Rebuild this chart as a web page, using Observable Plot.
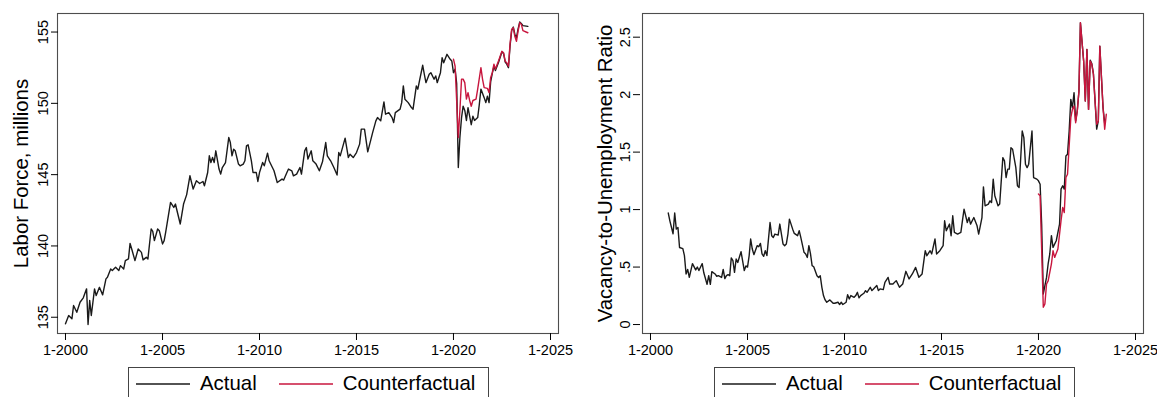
<!DOCTYPE html>
<html>
<head>
<meta charset="utf-8">
<script src="https://cdn.jsdelivr.net/npm/d3@7"></script>
<script src="https://cdn.jsdelivr.net/npm/@observablehq/plot@0.6"></script>
<style>
  body { margin: 0; background: #fff; font-family: "Liberation Sans", Arial, sans-serif; }
  #wrap { position: relative; width: 1157px; height: 397px; overflow: hidden; background: #fff; }
  .panel { position: absolute; top: 0; }
  .legend { position: absolute; top: 367px; height: 36px; border: 1px solid #444; box-sizing: border-box;
            display: flex; align-items: center; font-size: 20.4px; color: #000; padding-left: 7px; padding-bottom: 3px; }
  .swatch { display: block; width: 54px; height: 4px; }
  .legend span { margin-left: 10px; }
</style>
</head>
<body>
<div id="wrap">
  <div class="panel" id="p1" style="left:0px"></div>
  <div class="panel" id="p2" style="left:579px"></div>
  <div class="legend" id="lg1" style="left:128px;width:361px"></div>
  <div class="legend" id="lg2" style="left:714px;width:361px"></div>
</div>
<script>
// ---------- DATA ----------
const yearTicks = [2000, 2005, 2010, 2015, 2020, 2025];
const seriesNames = ["Actual", "Counterfactual"];
const seriesColors = ["#1a1a1a", "#c8163e"];

const lfTicks = [135, 140, 145, 150, 155];
const vuTicks = [0, 0.5, 1, 1.5, 2, 2.5];

const lfTitle = "Labor Force, millions";
const vuTitle = "Vacancy-to-Unemployment Ratio";

// Labor force, actual (millions)
const lfActual = [
["2000-01",134.54],["2000-03",135.12],["2000-05",134.89],["2000-06",135.82],["2000-08",135.35],["2000-10",136.05],["2000-12",136.36],
["2001-02",136.99],["2001-03",134.49],["2001-04",136.17],["2001-05",135.12],["2001-07",136.99],["2001-08",136.52],["2001-10",137.1],["2001-12",136.57],
["2002-02",137.69],["2002-03",137.8],["2002-05",138.39],["2002-06",138.27],["2002-08",138.5],["2002-10",138.27],["2002-11",138.62],
["2003-01",138.39],["2003-02",138.97],["2003-04",139.09],["2003-05",140.18],["2003-06",139.79],["2003-08",138.97],["2003-10",139.79],["2003-12",139.55],
["2004-01",139.02],["2004-03",139.2],["2004-04",139.09],["2004-06",141.19],["2004-07",141.02],["2004-08",140.37],["2004-10",141.19],["2004-11",141.07],
["2005-01",140.14],["2005-02",140.37],["2005-03",140.95],["2005-06",143.05],["2005-08",142.7],["2005-09",142.94],["2005-10",142.47],["2005-12",141.54],
["2006-02",142.94],["2006-04",143.6],["2006-06",144.92],["2006-08",143.99],["2006-10",144.57],["2006-12",144.38],
["2007-02",144.52],["2007-03",144.22],["2007-05",145.15],["2007-06",146.32],["2007-07",145.85],["2007-08",146.2],["2007-09",145.85],["2007-10",146.67],["2007-12",145.39],
["2008-01",145.04],["2008-02",145.5],["2008-04",145.85],["2008-06",147.6],["2008-07",147.25],["2008-08",146.32],["2008-09",146.78],["2008-10",146.67],["2008-12",145.74],
["2009-01",145.62],["2009-03",145.74],["2009-04",145.97],["2009-05",147.02],["2009-06",147.09],["2009-08",145.97],["2009-09",145.15],["2009-11",145.15],["2009-12",144.52],
["2010-01",145.15],["2010-03",145.85],["2010-04",145.62],["2010-06",146.51],["2010-07",145.97],["2010-09",145.5],["2010-10",145.27],["2010-12",144.45],
["2011-03",144.69],["2011-04",144.62],["2011-06",145.15],["2011-07",145.39],["2011-09",145.27],["2011-10",144.92],["2011-12",145.04],
["2012-02",145.5],["2012-03",145.04],["2012-05",146.67],["2012-06",146.9],["2012-07",146.09],["2012-09",146.67],["2012-10",145.97],["2012-12",145.74],
["2013-02",145.27],["2013-04",145.9],["2013-06",147.25],["2013-07",146.32],["2013-09",145.97],["2013-11",145.5],
["2014-01",144.97],["2014-02",146.55],["2014-03",146.32],["2014-05",147.14],["2014-06",147.56],["2014-08",146.2],["2014-09",146.43],["2014-11",146.2],
["2015-01",146.55],["2015-03",147.14],["2015-04",148.19],["2015-06",148.19],["2015-08",146.6],["2015-10",147.49],["2015-11",147.95],
["2016-01",148.77],["2016-02",149.0],["2016-04",148.77],["2016-06",150.1],["2016-07",149.24],["2016-09",149.35],["2016-11",149.0],["2016-12",148.65],
["2017-01",149.35],["2017-04",149.59],["2017-05",150.05],["2017-06",151.22],["2017-07",150.29],["2017-09",150.05],["2017-11",149.7],["2017-12",149.59],
["2018-02",151.22],["2018-03",150.99],["2018-04",151.57],["2018-06",152.67],["2018-07",152.04],["2018-08",151.45],["2018-10",152.04],["2018-11",152.15],
["2019-01",151.69],["2019-02",151.92],["2019-03",151.45],["2019-05",152.15],["2019-06",153.2],["2019-07",152.85],["2019-09",153.44],["2019-11",153.09],["2019-12",152.97],
["2020-01",152.15],["2020-02",152.4],["2020-03",151.4],["2020-04",145.5],["2020-05",147.6],["2020-06",149.0],["2020-07",149.8],["2020-08",149.5],["2020-09",148.8],["2020-10",149.7],["2020-12",148.5],
["2021-01",149.1],["2021-02",148.8],["2021-04",149.0],["2021-05",149.9],["2021-06",151.0],["2021-08",150.4],["2021-09",150.05],["2021-10",150.5],["2021-11",150.05],["2021-12",151.5],
["2022-01",152.1],["2022-02",152.6],["2022-03",152.3],["2022-05",152.9],["2022-07",153.6],["2022-08",153.5],["2022-09",152.9],["2022-10",152.75],["2022-11",152.5],["2022-12",154.0],
["2023-01",155.1],["2023-02",155.35],["2023-03",154.85],["2023-04",154.6],["2023-05",155.2],["2023-06",155.7],["2023-07",155.6],["2023-08",155.45],["2023-11",155.4]
];

// Labor force, counterfactual (millions)
const lfCounterfactual = [
["2020-01",153.1],["2020-02",152.6],["2020-04",147.6],["2020-05",149.5],["2020-06",151.7],["2020-07",151.7],["2020-08",151.45],["2020-09",150.3],["2020-10",150.75],["2020-11",150.2],["2020-12",149.8],
["2021-01",150.2],["2021-03",150.3],["2021-04",151.0],["2021-06",152.5],["2021-07",151.7],["2021-08",151.1],["2021-10",151.05],["2021-11",150.75],["2021-12",151.8],
["2022-01",152.15],["2022-02",152.75],["2022-03",152.4],["2022-05",153.0],["2022-07",153.65],["2022-08",153.55],["2022-09",152.95],["2022-10",152.85],["2022-11",152.6],["2022-12",154.15],
["2023-01",155.2],["2023-02",155.3],["2023-03",154.7],["2023-04",154.35],["2023-05",155.05],["2023-06",155.65],["2023-07",155.55],["2023-08",155.1],["2023-11",154.95]
];

// Vacancy-to-unemployment ratio, actual
const vuActual = [
["2000-12",0.97],["2001-01",0.90],["2001-03",0.79],["2001-04",0.97],["2001-05",0.83],["2001-06",0.845],["2001-07",0.67],["2001-09",0.66],["2001-10",0.60],["2001-11",0.44],["2001-12",0.48],
["2002-01",0.41],["2002-03",0.53],["2002-05",0.475],["2002-06",0.50],["2002-07",0.47],["2002-08",0.50],["2002-09",0.53],["2002-10",0.45],["2002-12",0.35],
["2003-01",0.425],["2003-02",0.35],["2003-03",0.46],["2003-05",0.44],["2003-06",0.42],["2003-07",0.425],["2003-09",0.41],["2003-10",0.48],["2003-11",0.40],["2003-12",0.425],
["2004-01",0.434],["2004-02",0.425],["2004-03",0.58],["2004-04",0.556],["2004-05",0.454],["2004-06",0.57],["2004-07",0.54],["2004-09",0.634],["2004-11",0.47],["2004-12",0.51],
["2005-01",0.50],["2005-02",0.60],["2005-03",0.744],["2005-04",0.657],["2005-05",0.608],["2005-07",0.686],["2005-08",0.677],["2005-09",0.706],["2005-10",0.614],["2005-11",0.593],["2005-12",0.642],
["2006-01",0.60],["2006-03",0.888],["2006-04",0.773],["2006-05",0.758],["2006-06",0.787],["2006-08",0.778],["2006-09",0.874],["2006-11",0.70],["2006-12",0.686],
["2007-01",0.70],["2007-02",0.787],["2007-03",0.917],["2007-05",0.83],["2007-06",0.793],["2007-08",0.773],["2007-09",0.816],["2007-10",0.758],["2007-12",0.628],
["2008-01",0.614],["2008-02",0.584],["2008-03",0.686],["2008-04",0.614],["2008-05",0.512],["2008-06",0.503],["2008-08",0.425],["2008-09",0.41],["2008-10",0.425],["2008-11",0.324],["2008-12",0.252],
["2009-01",0.214],["2009-02",0.194],["2009-04",0.214],["2009-06",0.185],["2009-07",0.185],["2009-09",0.194],["2009-10",0.174],["2009-11",0.194],["2009-12",0.174],
["2010-02",0.194],["2010-03",0.26],["2010-04",0.223],["2010-05",0.252],["2010-07",0.237],["2010-08",0.252],["2010-09",0.28],["2010-10",0.232],["2010-11",0.252],
["2011-01",0.272],["2011-02",0.295],["2011-03",0.28],["2011-05",0.324],["2011-06",0.295],["2011-07",0.31],["2011-09",0.339],["2011-10",0.295],["2011-11",0.31],
["2012-01",0.304],["2012-02",0.367],["2012-04",0.41],["2012-05",0.353],["2012-07",0.353],["2012-09",0.382],["2012-11",0.324],
["2013-01",0.353],["2013-03",0.463],["2013-05",0.397],["2013-07",0.44],["2013-09",0.497],["2013-11",0.411],
["2014-01",0.44],["2014-03",0.642],["2014-04",0.599],["2014-06",0.642],["2014-07",0.614],["2014-09",0.744],["2014-10",0.614],["2014-12",0.642],
["2015-02",0.686],["2015-03",0.903],["2015-04",0.816],["2015-06",0.874],["2015-07",0.773],["2015-08",0.946],["2015-09",0.801],["2015-11",0.787],
["2016-01",0.801],["2016-02",0.909],["2016-03",1.004],["2016-05",0.888],["2016-06",0.931],["2016-07",0.874],["2016-09",0.931],["2016-11",0.859],["2016-12",0.787],
["2017-02",0.931],["2017-03",1.198],["2017-04",1.033],["2017-06",1.048],["2017-07",1.076],["2017-08",1.062],["2017-09",1.265],["2017-10",1.12],["2017-12",1.033],
["2018-01",1.048],["2018-03",1.452],["2018-04",1.424],["2018-05",1.279],["2018-06",1.352],["2018-07",1.352],["2018-08",1.539],["2018-09",1.525],["2018-11",1.365],["2018-12",1.207],
["2019-01",1.192],["2019-03",1.684],["2019-04",1.626],["2019-05",1.395],["2019-06",1.365],["2019-07",1.395],["2019-09",1.684],["2019-10",1.279],["2019-12",1.265],
["2020-01",1.25],["2020-02",1.221],["2020-03",0.874],["2020-04",0.266],["2020-06",0.41],["2020-07",0.527],["2020-08",0.614],["2020-09",0.773],["2020-10",0.671],["2020-12",0.729],
["2021-02",0.874],["2021-03",1.178],["2021-04",1.207],["2021-05",1.178],["2021-06",1.467],["2021-07",1.482],["2021-08",1.684],["2021-09",1.959],["2021-10",1.886],["2021-11",2.017],["2021-12",1.771],
["2022-01",1.86],["2022-02",2.03],["2022-03",2.625],["2022-05",2.29],["2022-06",1.944],["2022-07",2.393],["2022-08",1.872],["2022-09",2.30],["2022-10",2.27],["2022-11",2.18],["2022-12",1.95],
["2023-01",1.70],["2023-02",1.771],["2023-03",2.422],["2023-05",1.886],["2023-06",1.75]
];

// Vacancy-to-unemployment ratio, counterfactual
const vuCounterfactual = [
["2020-01",1.135],["2020-02",1.12],["2020-04",0.15],["2020-05",0.18],["2020-06",0.353],["2020-07",0.38],["2020-09",0.527],["2020-10",0.642],["2020-11",0.584],
["2021-01",0.657],["2021-03",0.903],["2021-04",1.018],["2021-05",0.975],["2021-06",1.279],["2021-07",1.308],["2021-09",1.8],["2021-10",1.872],["2021-11",1.901],["2021-12",1.756],
["2022-01",1.858],["2022-02",2.031],["2022-03",2.625],["2022-05",2.292],["2022-06",1.944],["2022-07",2.393],["2022-08",1.872],["2022-09",2.292],["2022-10",2.263],["2022-11",2.176],["2022-12",1.944],
["2023-01",1.742],["2023-02",1.771],["2023-03",2.422],["2023-05",1.886],["2023-06",1.699],["2023-07",1.829]
];

// ---------- RENDER ----------
const parseMonth = d3.utcParse("%Y-%m");
const rows = (pairs) => pairs.map(([m, v]) => ({date: parseMonth(m), value: v}));
const yearMs = 365.2425 * 864e5;
const decYear = (y) => new Date(Date.UTC(Math.floor(y), 0, 1) + (y - Math.floor(y)) * yearMs);
const tickDates = yearTicks.map(y => new Date(Date.UTC(y, 0, 1)));
const font = "'Liberation Sans', Arial, sans-serif";
const [black, red] = seriesColors;

function makePanel({actual, cf, yDomain, yTicks, yFormat, title, marginLeft, marginRight, titleDx, labelDx}) {
  return Plot.plot({
    width: 578,
    height: 362,
    marginTop: 13,
    marginBottom: 29,
    marginLeft,
    marginRight,
    style: {fontFamily: font, fontSize: "14.5px", color: "#000", background: "#fff", overflow: "visible"},
    x: {type: "utc", domain: [decYear(2000 - 8/19.4), decYear(2025 + 8/19.4)]},
    y: {domain: yDomain},
    marks: [
      Plot.frame({stroke: "#4d4d4d", strokeWidth: 1.1}),
      Plot.axisX({ticks: tickDates, tickFormat: d => "1-" + d.getUTCFullYear(), tickSize: 7, tickPadding: 4, label: null, fontSize: 14.5}),
      Plot.axisY({ticks: yTicks, tickFormat: yFormat, tickRotate: -90, tickSize: 7, tickPadding: 4, textStroke: "none", label: null, fontSize: 14.5, dx: labelDx}),
      Plot.line(rows(actual), {x: "date", y: "value", stroke: black, strokeWidth: 1.4}),
      Plot.line(rows(cf), {x: "date", y: "value", stroke: red, strokeWidth: 1.4}),
      Plot.text([title], {frameAnchor: "left", rotate: -90, textAnchor: "middle", lineAnchor: "middle", dx: titleDx, fontSize: 20.4, fill: "#000"})
    ]
  });
}

function fillLegend(el) {
  seriesNames.forEach((name, i) => {
    const sw = document.createElementNS("http://www.w3.org/2000/svg", "svg");
    sw.setAttribute("class", "swatch");
    sw.setAttribute("width", 54);
    sw.setAttribute("height", 4);
    if (i > 0) sw.style.marginLeft = "22px";
    const ln = document.createElementNS("http://www.w3.org/2000/svg", "line");
    ln.setAttribute("x1", 0); ln.setAttribute("x2", 54);
    ln.setAttribute("y1", 2); ln.setAttribute("y2", 2);
    ln.setAttribute("stroke", seriesColors[i]);
    ln.setAttribute("stroke-width", 1.6);
    sw.appendChild(ln);
    const sp = document.createElement("span");
    sp.textContent = name;
    el.appendChild(sw);
    el.appendChild(sp);
  });
}

document.getElementById("p1").append(makePanel({
  actual: lfActual, cf: lfCounterfactual,
  yDomain: [133.86, 156.3], yTicks: lfTicks, yFormat: d => String(d),
  title: lfTitle, marginLeft: 57, marginRight: 20, titleDx: -36.5, labelDx: 1
}));

document.getElementById("p2").append(makePanel({
  actual: vuActual, cf: vuCounterfactual,
  yDomain: [-0.078, 2.706], yTicks: vuTicks, yFormat: d => d === 0 ? "0" : String(d).replace(/^0\./, "."),
  title: vuTitle, marginLeft: 63, marginRight: 14, titleDx: -37, labelDx: -2
}));

fillLegend(document.getElementById("lg1"));
fillLegend(document.getElementById("lg2"));
</script>
</body>
</html>
